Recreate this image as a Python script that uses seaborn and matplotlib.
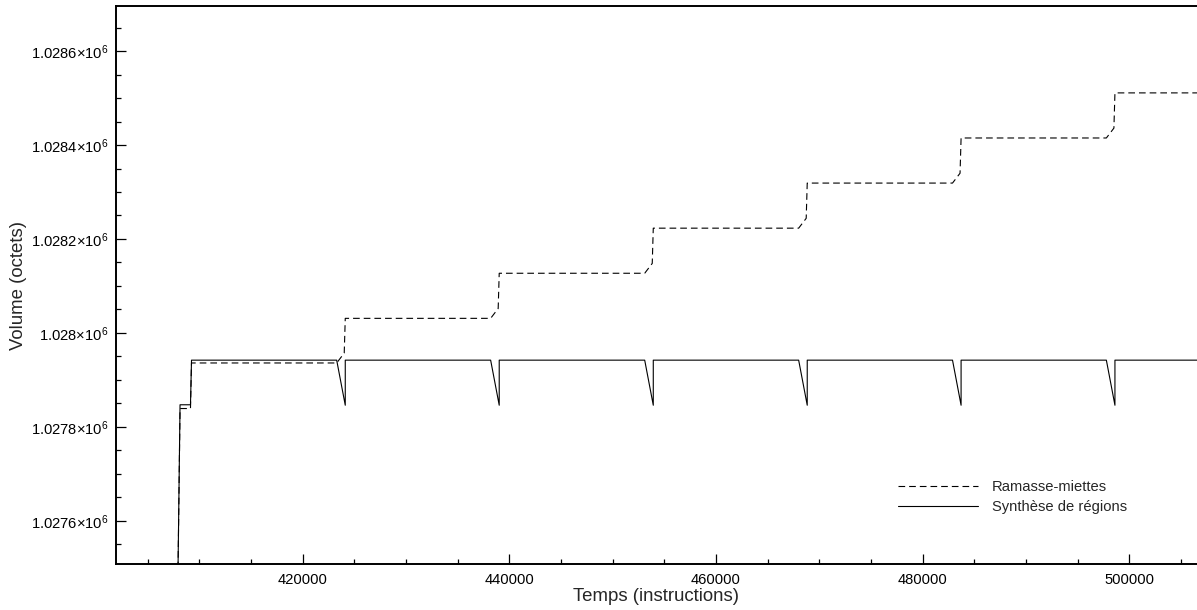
import matplotlib
matplotlib.use("Agg")
import matplotlib.pyplot as plt
import numpy as np
import pandas as pd
import seaborn as sns
from matplotlib.ticker import MultipleLocator, FuncFormatter
from matplotlib.lines import Line2D

# ---------------- data ----------------
series_names = ["Ramasse-miettes", "Synthèse de régions"]
x_label = "Temps (instructions)"
y_label = "Volume (octets)"

# Ramasse-miettes (dashed)
gc_t = [407880, 408130, 409140, 409240,
        423290, 424020, 424120,
        438190, 438920, 439020,
        453100, 453830, 453930,
        468000, 468730, 468830,
        482890, 483620, 483720,
        497780, 498510, 498610,
        507000]
gc_v = [1027400, 1027839, 1027839, 1027936,
        1027936, 1027957, 1028031,
        1028031, 1028052, 1028127,
        1028127, 1028148, 1028223,
        1028223, 1028244, 1028319,
        1028319, 1028340, 1028415,
        1028415, 1028436, 1028511,
        1028511]

# Synthèse de régions (solid)
rs_t = [407880, 408130, 409140, 409240,
        423290, 424120, 424120,
        438190, 439020, 439020,
        453100, 453930, 453930,
        468000, 468830, 468830,
        482890, 483720, 483720,
        497780, 498610, 498610,
        507000]
rs_v = [1027400, 1027847, 1027847, 1027942,
        1027942, 1027846, 1027942,
        1027942, 1027846, 1027942,
        1027942, 1027846, 1027942,
        1027942, 1027846, 1027942,
        1027942, 1027846, 1027942,
        1027942, 1027846, 1027942,
        1027942]

x_limits = (401903, 506552)
y_limits = (1027508, 1028696)

# ---------------- style ----------------
sns.set_style("ticks")
plt.rcParams["font.family"] = ["Liberation Sans", "DejaVu Sans"]
plt.rcParams["mathtext.fontset"] = "custom"
plt.rcParams["mathtext.rm"] = "Liberation Sans"
plt.rcParams["mathtext.it"] = "Liberation Sans:italic"
plt.rcParams["mathtext.bf"] = "Liberation Sans:bold"

df = pd.concat([
    pd.DataFrame({"t": gc_t, "v": gc_v, "series": series_names[0],
                  "order": np.arange(len(gc_t))}),
    pd.DataFrame({"t": rs_t, "v": rs_v, "series": series_names[1],
                  "order": np.arange(len(rs_t))}),
], ignore_index=True)

fig = plt.figure(figsize=(11.97, 6.10), dpi=100)
ax = fig.add_axes([115.7 / 1197, 1 - 564 / 610, 1 - 115.7 / 1197, (564 - 6) / 610])

dash_pattern = (6.0, 3.6)
sns.lineplot(data=df, x="t", y="v", hue="series", style="series",
             palette={series_names[0]: "black", series_names[1]: "black"},
             dashes={series_names[0]: dash_pattern, series_names[1]: ""},
             sort=False, estimator=None, units="series", linewidth=0.8,
             legend=False, ax=ax)

ax.set_xlim(*x_limits)
ax.set_ylim(*y_limits)

ax.xaxis.set_major_locator(MultipleLocator(20000))
ax.xaxis.set_minor_locator(MultipleLocator(5000))
ax.yaxis.set_major_locator(MultipleLocator(200))
ax.yaxis.set_minor_locator(MultipleLocator(50))

ax.xaxis.set_major_formatter(FuncFormatter(lambda v, p: f"{int(round(v))}"))


def yfmt(v, p):
    s = f"{v / 1e6:.4f}".rstrip("0").rstrip(".")
    return s + "×10$^{6}$"


ax.yaxis.set_major_formatter(FuncFormatter(yfmt))

ax.tick_params(axis="both", which="both", direction="in", colors="black",
               top=False, right=False)
ax.tick_params(axis="both", which="major", length=7.2, width=0.9, labelsize=10.6)
ax.tick_params(axis="both", which="minor", length=3.6, width=0.9)
ax.tick_params(axis="x", which="major", pad=6.5)
ax.tick_params(axis="y", which="major", pad=5.5)

for side in ["left", "bottom", "top"]:
    ax.spines[side].set_linewidth(1.4)
    ax.spines[side].set_color("black")
ax.spines["right"].set_visible(False)

ax.set_xlabel(x_label, fontsize=13.4, labelpad=0)
ax.set_ylabel(y_label, fontsize=13.4, labelpad=0)
ax.xaxis.set_label_coords(0.5, -0.043)
ax.yaxis.set_label_coords(-0.082, 0.5)

handles = [
    Line2D([], [], color="black", lw=0.8, linestyle=(0, dash_pattern)),
    Line2D([], [], color="black", lw=0.8, linestyle="-"),
]
ax.legend(handles, series_names, loc="center left",
          bbox_to_anchor=(898 / 1197, 1 - 497 / 610),
          bbox_transform=fig.transFigure, frameon=False, fontsize=10.6,
          handlelength=5.4, handletextpad=1.0, borderpad=0,
          borderaxespad=0, labelspacing=0.45)

fig.savefig("out.png", dpi=100)
